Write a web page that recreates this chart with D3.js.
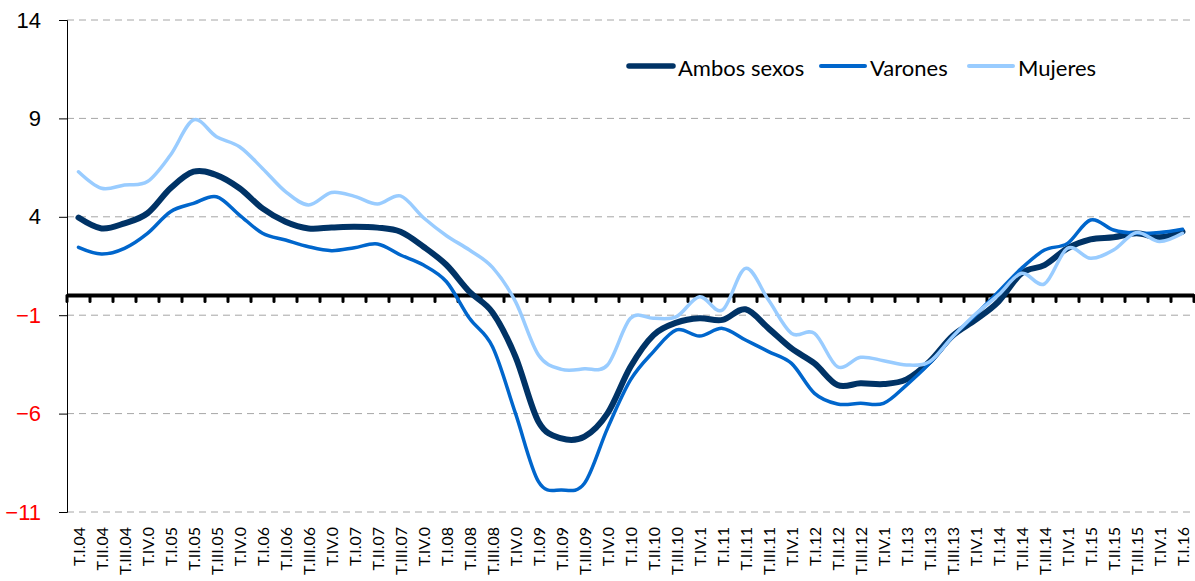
<!DOCTYPE html>
<html>
<head>
<meta charset="utf-8">
<script src="https://cdn.jsdelivr.net/npm/d3@7"></script>
<style>
  body { margin: 0; background: #fff; }
  svg { display: block; font-family: Lato, "Open Sans", sans-serif; }
  .grid line { stroke: #a6a6a6; stroke-dasharray: 7 5; }
</style>
</head>
<body>
<svg width="1195" height="581"></svg>
<script>
// quarters, as printed on the axis
const quarters = [
  "T.I.04","T.II.04","T.III.04","T.IV.0",
  "T.I.05","T.II.05","T.III.05","T.IV.0",
  "T.I.06","T.II.06","T.III.06","T.IV.0",
  "T.I.07","T.II.07","T.III.07","T.IV.0",
  "T.I.08","T.II.08","T.III.08","T.IV.0",
  "T.I.09","T.II.09","T.III.09","T.IV.0",
  "T.I.10","T.II.10","T.III.10","T.IV.1",
  "T.I.11","T.II.11","T.III.11","T.IV.1",
  "T.I.12","T.II.12","T.III.12","T.IV.1",
  "T.I.13","T.II.13","T.III.13","T.IV.1",
  "T.I.14","T.II.14","T.III.14","T.IV.1",
  "T.I.15","T.II.15","T.III.15","T.IV.1",
  "T.I.16"
];

const ambos = [3.96, 3.41, 3.67, 4.18, 5.45, 6.29, 6.12, 5.45, 4.43, 3.75, 3.41, 3.46,
  3.50, 3.45, 3.24, 2.48, 1.55, 0.19, -0.86, -3.11, -6.41, -7.26, -7.17, -5.99,
  -3.62, -2.01, -1.38, -1.16, -1.24, -0.70, -1.67, -2.69, -3.45, -4.55, -4.46, -4.50,
  -4.26, -3.36, -2.05, -1.24, -0.31, 1.13, 1.55, 2.40, 2.85, 2.96, 3.16, 2.96, 3.24];

const varones = [2.45, 2.11, 2.40, 3.16, 4.26, 4.68, 5.02, 4.09, 3.16, 2.82, 2.48, 2.28,
  2.43, 2.62, 2.06, 1.55, 0.70, -1.16, -2.60, -5.99, -9.46, -9.88, -9.54, -6.75,
  -4.29, -2.85, -1.75, -2.06, -1.67, -2.26, -2.85, -3.45, -4.97, -5.51, -5.48, -5.48,
  -4.55, -3.45, -2.10, -0.99, 0.19, 1.38, 2.31, 2.65, 3.84, 3.33, 3.16, 3.20, 3.37];

const mujeres = [6.29, 5.45, 5.62, 5.79, 7.14, 8.92, 8.07, 7.56, 6.46, 5.28, 4.60, 5.23,
  5.04, 4.65, 5.06, 3.95, 3.04, 2.31, 1.43, -0.31, -3.02, -3.75, -3.72, -3.53,
  -1.16, -1.16, -1.07, -0.06, -0.74, 1.38, -0.23, -1.92, -1.92, -3.62, -3.14, -3.31,
  -3.53, -3.36, -2.10, -0.94, 0.03, 1.13, 0.59, 2.40, 1.89, 2.31, 3.20, 2.74, 3.16];

const yTicks = [14, 9, 4, -1, -6, -11];

const series = [
  {name: "Ambos sexos", values: ambos, color: "#003366", width: 6},
  {name: "Varones", values: varones, color: "#0066cc", width: 3.5},
  {name: "Mujeres", values: mujeres, color: "#99ccff", width: 3.5}
];

const svg = d3.select("svg");
const plotL = 67, plotR = 1194, plotT = 20, plotB = 512;

const x = d3.scaleBand().domain(d3.range(quarters.length)).range([plotL, plotR]).padding(0);
const y = d3.scaleLinear().domain([-11, 14]).range([plotB, plotT]);
const cx = i => x(i) + x.bandwidth() / 2;

// dashed gridlines
svg.append("g").attr("class", "grid")
  .selectAll("line").data(yTicks).join("line")
  .attr("x1", plotL).attr("x2", plotR)
  .attr("y1", d => y(d)).attr("y2", d => y(d));

// y axis
const yAxis = svg.append("g")
  .attr("transform", `translate(${plotL},0)`)
  .call(d3.axisLeft(y).tickValues(yTicks).tickSize(8).tickPadding(18).tickFormat(d3.format("d")));
yAxis.select(".domain").attr("stroke", "#000");
yAxis.selectAll(".tick line").attr("stroke", "#000");
yAxis.selectAll(".tick text")
  .style("font-size", "22px")
  .attr("fill", d => d < 0 ? "#ff0000" : "#000");

// horizontal axis at zero with a tick on every quarter boundary
const zero = y(0);
svg.append("g").selectAll("line")
  .data(d3.range(quarters.length + 1)).join("line")
  .attr("x1", i => plotL + i * x.bandwidth()).attr("x2", i => plotL + i * x.bandwidth())
  .attr("y1", zero).attr("y2", zero + 6)
  .attr("stroke", "#000").attr("stroke-width", 3).attr("stroke-linecap", "round");
svg.append("line")
  .attr("x1", plotL).attr("x2", plotR)
  .attr("y1", zero).attr("y2", zero)
  .attr("stroke", "#000").attr("stroke-width", 4);

// quarter labels
svg.append("g").selectAll("text")
  .data(quarters).join("text")
  .attr("transform", (d, i) => `translate(${cx(i) + 6},${plotB + 15}) rotate(-90)`)
  .attr("text-anchor", "end")
  .style("font-size", "16px")
  .text(d => d);

// lines
const line = d3.line()
  .x((d, i) => cx(i))
  .y(d => y(d))
  .curve(d3.curveCardinal.tension(0));

svg.append("g").selectAll("path")
  .data(series).join("path")
  .attr("d", d => line(d.values))
  .attr("fill", "none")
  .attr("stroke", d => d.color)
  .attr("stroke-width", d => d.width)
  .attr("stroke-linejoin", "round")
  .attr("stroke-linecap", "round");

// legend
const legendX = [629, 821, 969];
const lg = svg.append("g").selectAll("g")
  .data(series).join("g")
  .attr("transform", (d, i) => `translate(${legendX[i]},66)`);
lg.append("line")
  .attr("x1", 0).attr("x2", 44)
  .attr("stroke", d => d.color)
  .attr("stroke-width", (d, i) => i === 0 ? 5.5 : 4)
  .attr("stroke-linecap", "round");
lg.append("text")
  .attr("x", 49).attr("y", 10)
  .style("font-size", "22px")
  .text(d => d.name);
</script>
</body>
</html>
